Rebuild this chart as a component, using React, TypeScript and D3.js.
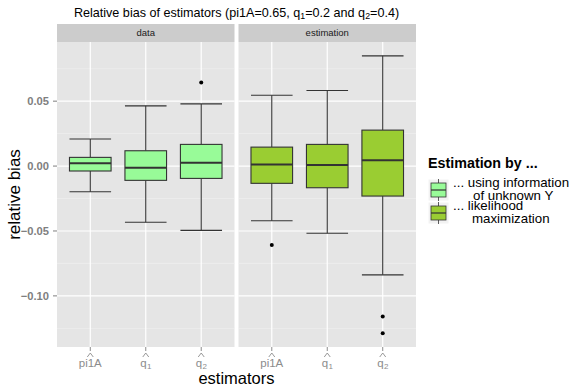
import * as d3 from "d3";

const W = 574;
const H = 387;
const PLOT = { left: 57, right: 416, top: 42, bottom: 347 };
const STRIP_TOP = 24;
const PANEL_GAP = 4;
const FONT = "Liberation Sans, Arial, Helvetica, sans-serif";

const panels = ["data", "estimation"];
const estimators = ["pi1A", "q1", "q2"];
// [lower whisker, Q1, median, Q3, upper whisker] per estimator
const dataBoxes = [
  [-0.0198, -0.0038, 0.0021, 0.0067, 0.0208],
  [-0.0433, -0.011, -0.0013, 0.0118, 0.0464],
  [-0.0495, -0.0095, 0.0026, 0.0167, 0.0479],
];
const estimationBoxes = [
  [-0.0421, -0.0133, 0.0013, 0.0146, 0.0546],
  [-0.0518, -0.0167, 0.0008, 0.0167, 0.0582],
  [-0.0838, -0.0231, 0.0044, 0.0277, 0.0849],
];
const dataOutliers = [[], [], [0.0644]];
const estimationOutliers = [[-0.0608], [], [-0.1159, -0.1287]];
const fills = ["#98FB98", "#9ACD32"];
const yTicks = [-0.1, -0.05, 0, 0.05];
const yMinor = [-0.125, -0.075, -0.025, 0.025, 0.075];
const legendTitle = "Estimation by ...";
const legendLabels = [
  ["... using information", "of unknown Y"],
  ["... likelihood", "maximization"],
];
const legendIndent = [
  [0, 20],
  [0, 19],
];

const boxes = [dataBoxes, estimationBoxes];
const outliers = [dataOutliers, estimationOutliers];

const TICK_GREY = "#8c8c8c";

// plotmath-like hat(): a small chevron drawn above the label
function Hat({ x, y }: { x: number; y: number }) {
  return (
    <path
      d={`M${x - 3},${y + 4} L${x},${y} L${x + 3},${y + 4}`}
      fill="none"
      stroke={TICK_GREY}
      strokeWidth={0.9}
    />
  );
}

function TickLabel({ x, y, name }: { x: number; y: number; name: string }) {
  if (name === "pi1A") {
    return (
      <g fill={TICK_GREY} fontFamily={FONT}>
        <Hat x={x} y={y - 14} />
        <text x={x} y={y} fontSize={11.5} textAnchor="middle">pi1A</text>
      </g>
    );
  }
  const sub = name.slice(1);
  return (
    <g fill={TICK_GREY} fontFamily={FONT}>
      <Hat x={x} y={y - 14} />
      <text x={x - 2.3} y={y} fontSize={11.5} textAnchor="middle">q</text>
      <text x={x + 3.6} y={y + 1.5} fontSize={8} textAnchor="middle">{sub}</text>
    </g>
  );
}

export default function App() {
  const allVals = [...boxes.flat(2), ...outliers.flat(2)];
  const [lo, hi] = d3.extent(allVals) as [number, number];
  const ex = (hi - lo) * 0.05;
  const y = d3.scaleLinear().domain([lo - ex, hi + ex]).range([PLOT.bottom, PLOT.top]);
  const panelW = (PLOT.right - PLOT.left - PANEL_GAP) / 2;
  const panelX = panels.map((_, i) => PLOT.left + i * (panelW + PANEL_GAP));
  const xScales = panelX.map((px) =>
    d3.scalePoint<string>().domain(estimators).range([px, px + panelW]).padding(0.6)
  );
  const step = xScales[0].step();
  const boxW = step * 0.75;

  const legendX = 428;
  const keyW = 21;
  const keyTops = [179, 202];
  const keyH = 22;

  return (
    <svg
      width={W}
      height={H}
      style={{ position: "absolute", left: 0, top: 0, background: "#fff" }}
      fontFamily={FONT}
    >
      <text x={(PLOT.left + PLOT.right) / 2} y={17} fontSize={12.6} textAnchor="middle" fill="#000">
        Relative bias of estimators (pi1A=0.65, q
        <tspan fontSize={8.8} dy={2}>1</tspan>
        <tspan dy={-2}>=0.2 and q</tspan>
        <tspan fontSize={8.8} dy={2}>2</tspan>
        <tspan dy={-2}>=0.4)</tspan>
      </text>

      {panels.map((p, i) => {
        const x = xScales[i];
        const px = panelX[i];
        return (
          <g key={p}>
            <rect x={px} y={STRIP_TOP} width={panelW} height={PLOT.top - STRIP_TOP} fill="#CCCCCC" />
            <text x={px + panelW / 2} y={STRIP_TOP + 12} fontSize={9.5} textAnchor="middle" fill="#1a1a1a">
              {p}
            </text>
            <rect x={px} y={PLOT.top} width={panelW} height={PLOT.bottom - PLOT.top} fill="#E5E5E5" />
            {yMinor.map((t) => (
              <line key={t} x1={px} x2={px + panelW} y1={y(t)} y2={y(t)} stroke="#F2F2F2" strokeWidth={0.6} />
            ))}
            {yTicks.map((t) => (
              <line key={t} x1={px} x2={px + panelW} y1={y(t)} y2={y(t)} stroke="#fff" strokeWidth={1.2} />
            ))}
            {estimators.map((e) => (
              <line key={e} x1={x(e)} x2={x(e)} y1={PLOT.top} y2={PLOT.bottom} stroke="#fff" strokeWidth={1.2} />
            ))}
            {estimators.map((e, j) => {
              const [wl, q1, med, q3, wh] = boxes[i][j];
              const cx = x(e)!;
              return (
                <g key={e} stroke="#333333" strokeWidth={1.1}>
                  <line x1={cx} x2={cx} y1={y(wh)} y2={y(q3)} />
                  <line x1={cx} x2={cx} y1={y(q1)} y2={y(wl)} />
                  <line x1={cx - boxW / 2} x2={cx + boxW / 2} y1={y(wh)} y2={y(wh)} />
                  <line x1={cx - boxW / 2} x2={cx + boxW / 2} y1={y(wl)} y2={y(wl)} />
                  <rect x={cx - boxW / 2} y={y(q3)} width={boxW} height={y(q1) - y(q3)} fill={fills[i]} />
                  <line x1={cx - boxW / 2} x2={cx + boxW / 2} y1={y(med)} y2={y(med)} strokeWidth={2} />
                  {outliers[i][j].map((o, k) => (
                    <circle key={k} cx={cx} cy={y(o)} r={2} fill="#000" stroke="none" />
                  ))}
                </g>
              );
            })}
            {estimators.map((e) => (
              <g key={e}>
                <line x1={x(e)} x2={x(e)} y1={PLOT.bottom} y2={PLOT.bottom + 4} stroke={TICK_GREY} />
                <TickLabel x={x(e)!} y={367} name={e} />
              </g>
            ))}
          </g>
        );
      })}

      {yTicks.map((t) => (
        <g key={t}>
          <line x1={PLOT.left - 4} x2={PLOT.left} y1={y(t)} y2={y(t)} stroke="#7F7F7F" />
          <text
            x={PLOT.left - 8}
            y={y(t) + 4}
            fontSize={11.2}
            fontWeight="bold"
            textAnchor="end"
            fill="#7F7F7F"
          >
            {d3.format(".2f")(t).replace("-", "\u2212")}
          </text>
        </g>
      ))}

      <text
        transform={`translate(20, ${(PLOT.top + PLOT.bottom) / 2}) rotate(-90)`}
        fontSize={17}
        textAnchor="middle"
        fill="#000"
      >
        relative bias
      </text>
      <text x={(PLOT.left + PLOT.right) / 2} y={383.5} fontSize={16.5} textAnchor="middle" fill="#000">
        estimators
      </text>

      <text x={legendX} y={168} fontSize={14.3} fontWeight="bold" fill="#000">
        {legendTitle}
      </text>
      {legendLabels.map((lines, i) => {
        const top = keyTops[i];
        const cx = legendX + keyW / 2;
        const bx = legendX + 3;
        const bw = keyW - 6;
        const bTop = top + 4;
        const bBot = top + keyH - 4;
        return (
          <g key={i}>
            <rect x={legendX} y={top} width={keyW} height={keyH} fill="#F2F2F2" stroke="#fff" />
            <g stroke="#333333" strokeWidth={0.8}>
              <line x1={cx} x2={cx} y1={top} y2={bTop} />
              <line x1={cx} x2={cx} y1={bBot} y2={top + keyH} />
              <rect x={bx} y={bTop} width={bw} height={bBot - bTop} fill={fills[i]} />
              <line x1={bx} x2={bx + bw} y1={(bTop + bBot) / 2} y2={(bTop + bBot) / 2} strokeWidth={1.2} />
            </g>
            {lines.map((l, k) => (
              <text key={k} x={453 + legendIndent[i][k]} y={top + 8 + k * 13} fontSize={13.3} fill="#000">
                {l}
              </text>
            ))}
          </g>
        );
      })}
    </svg>
  );
}
